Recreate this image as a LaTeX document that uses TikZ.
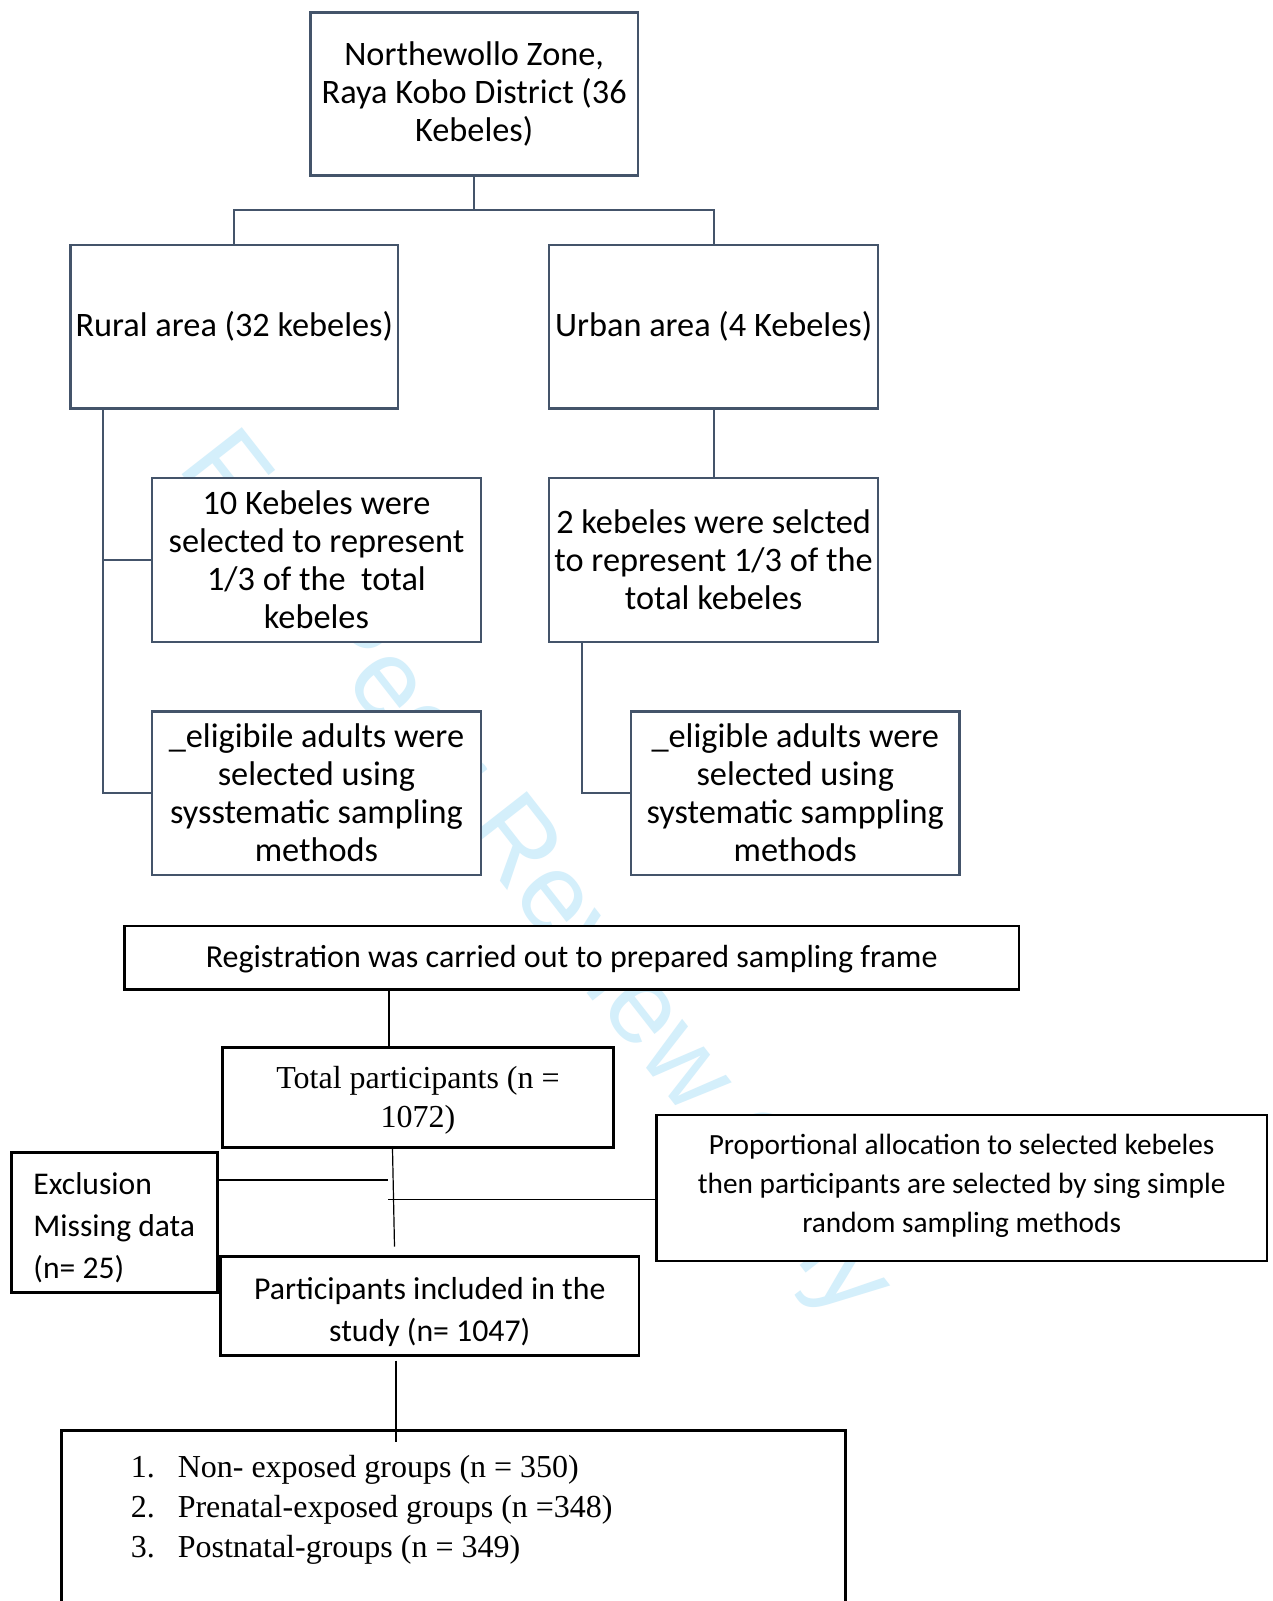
\documentclass[tikz,border=0pt]{standalone}
\usepackage{fontspec}
\setmainfont{Carlito}
\newfontfamily\tnr{Liberation Serif}
\newfontfamily\wmfont{Liberation Sans}
\definecolor{slate}{RGB}{68,84,106}
\definecolor{wmblue}{RGB}{212,239,251}
\newcommand{\downby}[2]{\raisebox{0pt}[\dimexpr\height+#1\relax][\depth]{#2}}
\newcommand{\upby}[2]{\raisebox{0pt}[\height][\dimexpr\depth+#1\relax]{#2}}
\tikzset{
  topbox/.style={draw=slate, line width=2.4pt, fill=white, inner sep=0pt, align=center,
    font=\fontsize{34.3}{38}\selectfont},
  botbox/.style={draw=black, line width=2.6pt, fill=white, inner sep=0pt, align=center},
  conn/.style={draw=slate, line width=2pt},
  thinline/.style={draw=black, line width=1.2pt},
  listitem/.style={anchor=base west, inner sep=0pt, font=\tnr\fontsize{32}{40}\selectfont}
}
\begin{document}
\begin{tikzpicture}[x=1pt,y=-1pt]
\useasboundingbox (0,0) rectangle (1272,1601);
\clip (0,0) rectangle (1272,1601);
\fill[white] (0,0) rectangle (1272,1601);

% watermark
\node[font=\wmfont\fontsize{111}{111}\selectfont, text=wmblue, rotate=-52, anchor=base west, inner sep=0pt] (wm) at (176.5,467) {For Peer Review Only};

% upper boxes
\node[topbox, minimum width=327.7pt, minimum height=163.3pt] (top) at (474.2,94) {Northewollo Zone,\\Raya Kobo District (36\\Kebeles)};
\node[topbox, minimum width=327.7pt, minimum height=163.3pt] (rural) at (234.25,326.65) {Rural area (32 kebeles)};
\node[topbox, minimum width=328.8pt, minimum height=163.3pt] (urban) at (713.6,326.65) {Urban area (4 Kebeles)};
\node[topbox, minimum width=328.7pt, minimum height=164.3pt] (ten) at (316.45,559.95) {10 Kebeles were\\selected to represent\\1/3 of the\ \ total\\kebeles};
\node[topbox, minimum width=328.7pt, minimum height=163.4pt] (elL) at (316.45,793.2) {\_eligibile adults were\\selected using\\sysstematic sampling\\methods};
\node[topbox, minimum width=328.8pt, minimum height=164.3pt] (two) at (713.6,559.95) {2 kebeles were selcted\\to represent 1/3 of the\\total kebeles};
\node[topbox, minimum width=328.7pt, minimum height=163.4pt] (elR) at (795.25,793.2) {\_eligible adults were\\selected using\\systematic samppling\\methods};

% lower boxes
\node[botbox, minimum width=894.3pt, minimum height=63.3pt, font=\fontsize{32}{38}\selectfont] (reg) at (571.65,957.55) {\downby{4pt}{Registration was carried out to prepared sampling frame}};
\node[botbox, minimum width=391pt, minimum height=100.1pt, font=\tnr\fontsize{32}{38.8}\selectfont] (tot) at (418,1097.45) {\downby{6pt}{\begin{tabular}{@{}c@{}}Total participants (n =\\1072)\end{tabular}}};
\node[botbox, minimum width=206.2pt, minimum height=139.9pt, font=\fontsize{31.6}{41.9}\selectfont] (excl) at (114.3,1222.45) {\downby{11pt}{\begin{tabular}{@{}l@{}}Exclusion\\Missing data\\(n= 25)\end{tabular}}};
\node[botbox, minimum width=610.5pt, minimum height=146pt, font=\fontsize{29.3}{38.8}\selectfont] (prop) at (961.65,1187.8) {\upby{4pt}{\begin{tabular}{@{}c@{}}Proportional allocation to selected kebeles\\then participants are selected by sing simple\\random sampling methods\end{tabular}}};
\node[botbox, minimum width=418.6pt, minimum height=99pt, font=\fontsize{31.8}{41.9}\selectfont] (incl) at (429.8,1306.2) {\downby{12pt}{\begin{tabular}{@{}c@{}}Participants included in the\\study (n= 1047)\end{tabular}}};
\node[botbox, minimum width=784.3pt, minimum height=230pt, anchor=north] (final) at (453.35,1429.2) {};
\node[listitem] (l1) at (130.7,1477.7) {\makebox[46.9pt][l]{1.}Non- exposed groups (n = 350)};
\node[listitem] (l2) at (130.7,1517.7) {\makebox[46.9pt][l]{2.}Prenatal-exposed groups (n =348)};
\node[listitem] (l3) at (130.7,1557.7) {\makebox[46.9pt][l]{3.}Postnatal-groups (n = 349)};

% upper connectors
\coordinate (br) at (474.2,210.3);
\draw[conn] (top.south) -- (br);
\draw[conn] (rural.north) |- (br) -| (urban.north);
\coordinate (rt) at (103.1,408.3);
\draw[conn] (rt) |- (elL.west);
\draw[conn] (rt |- ten.west) -- (ten.west);
\draw[conn] (urban.south) -- (two.north);
\coordinate (ut) at (581.9,642.1);
\draw[conn] (ut) |- (elR.west);

% lower connectors
\coordinate (c1) at (389,0);
\draw[thinline] (reg.south -| c1) -- (tot.north -| c1);
\coordinate (v1) at (392.5,1148);
\coordinate (v2) at (394.5,1246.7);
\draw[thinline] (tot.south -| v1) -- (v2);
\coordinate (j1) at (388,1180);
\draw[thinline] (excl.east |- j1) -- (j1);
\coordinate (j2) at (388,1199.3);
\draw[thinline] (j2) -- (prop.west |- j2);
\coordinate (f1) at (396,1360.5);
\coordinate (f2) at (396,1441.7);
\draw[thinline] (f1) -- (f2);
\end{tikzpicture}
\end{document}
